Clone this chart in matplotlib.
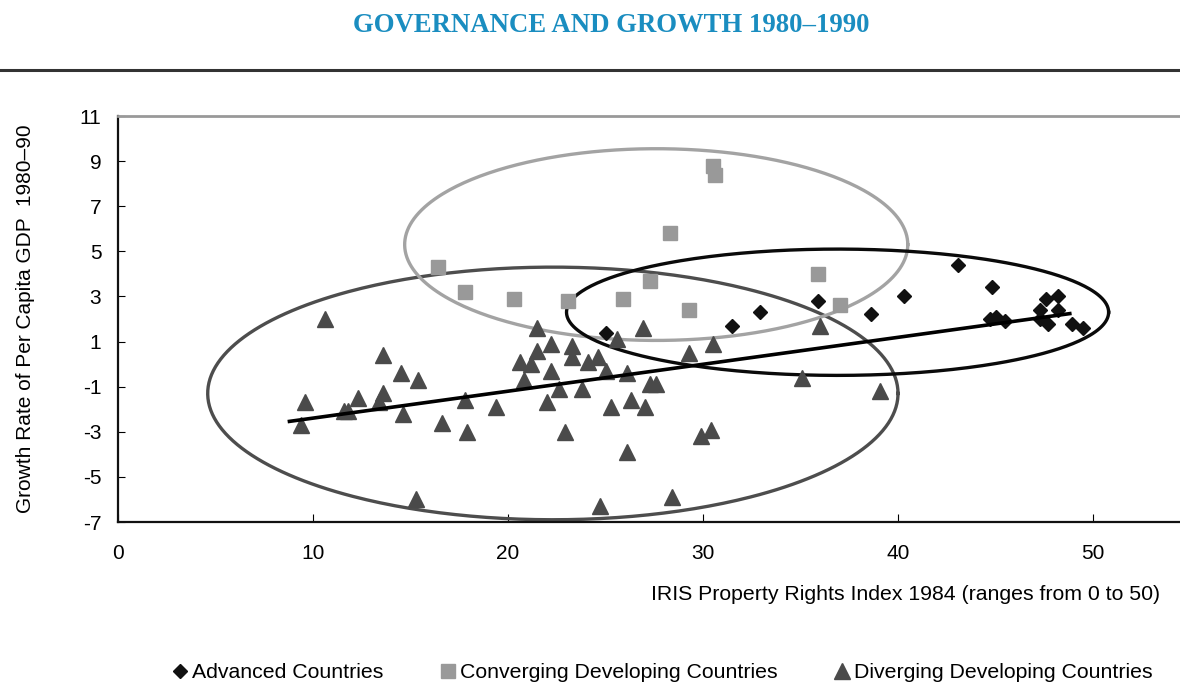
import numpy as np
import matplotlib
matplotlib.use("Agg")
import matplotlib.pyplot as plt
from matplotlib.lines import Line2D

plt.rcParams['font.family'] = ['Liberation Sans', 'DejaVu Sans']

# ---------------- data ----------------
adv_x = [25.0, 31.5, 32.9, 35.9, 38.6, 40.3, 43.1, 44.8, 44.7, 45.0, 45.5,
         47.3, 47.6, 48.2, 48.2, 47.3, 47.7, 48.9, 49.5]
adv_y = [1.4, 1.7, 2.3, 2.8, 2.2, 3.0, 4.4, 3.4, 2.0, 2.1, 1.9,
         2.4, 2.9, 3.0, 2.4, 2.0, 1.8, 1.8, 1.6]

conv_x = [16.4, 17.8, 20.3, 23.1, 25.9, 27.3, 28.3, 29.3, 30.5, 30.6, 35.9, 37.0]
conv_y = [4.3, 3.2, 2.9, 2.8, 2.9, 3.7, 5.8, 2.4, 8.8, 8.4, 4.0, 2.6]

div_x = [10.6, 13.6, 14.5, 15.4, 9.6, 12.3, 13.6, 13.4, 11.6, 11.8, 14.6, 9.4,
         16.6, 17.8, 17.9, 19.4, 15.3,
         21.5, 22.2, 21.5, 23.3, 23.3, 20.6, 21.2, 22.2, 24.1, 24.6, 25.0, 25.6,
         26.9, 26.1, 20.8, 22.6, 23.8, 27.3, 27.6, 22.0, 26.3, 27.0, 25.3, 22.9,
         26.1, 29.9, 30.4, 29.3, 30.5, 24.7, 28.4, 35.1, 39.1, 36.0]
div_y = [2.0, 0.4, -0.4, -0.7, -1.7, -1.5, -1.3, -1.7, -2.1, -2.1, -2.2, -2.7,
         -2.6, -1.6, -3.0, -1.9, -6.0,
         1.6, 0.9, 0.6, 0.8, 0.3, 0.1, 0.0, -0.3, 0.1, 0.3, -0.3, 1.1,
         1.6, -0.4, -0.7, -1.1, -1.1, -0.9, -0.9, -1.7, -1.6, -1.9, -1.9, -3.0,
         -3.9, -3.2, -2.9, 0.5, 0.9, -6.3, -5.9, -0.6, -1.2, 1.7]

trend_x = [8.7, 48.9]
trend_y = [-2.55, 2.25]

# ellipses: (center x, center y, half width, half height)
ell_conv = (27.6, 5.3, 12.9, 4.25)
ell_div = (22.3, -1.3, 17.7, 5.6)
ell_adv = (36.9, 2.3, 13.9, 2.8)

x_ticks = [0, 10, 20, 30, 40, 50]
y_ticks = [11, 9, 7, 5, 3, 1, -1, -3, -5, -7]

legend_labels = ["Advanced Countries", "Converging Developing Countries",
                 "Diverging Developing Countries"]

# ---------------- figure ----------------
FS = 15
fig = plt.figure(figsize=(11.8, 6.82), dpi=100)
ax = fig.add_axes([0.1, 0.2346, 0.9, 0.5953])

c_adv = '#111111'
c_conv = '#999999'
c_div = '#4a4a4a'

t = np.linspace(0, 2 * np.pi, 400)
for (cx, cy, a, b), col in [(ell_div, '#4d4d4d'), (ell_conv, '#a3a3a3'),
                            (ell_adv, '#0a0a0a')]:
    ax.plot(cx + a * np.cos(t), cy + b * np.sin(t), color=col, lw=2.4,
            zorder=2, clip_on=False)

ax.plot(div_x, div_y, linestyle='none', marker='^', ms=11, color=c_div,
        mec=c_div, zorder=3)
ax.plot(conv_x, conv_y, linestyle='none', marker='s', ms=10.5, color=c_conv,
        mec=c_conv, zorder=3)
ax.plot(adv_x, adv_y, linestyle='none', marker='D', ms=7.2, color=c_adv,
        mec=c_adv, zorder=4)
ax.plot(trend_x, trend_y, color='black', lw=2.6, zorder=5,
        solid_capstyle='butt')

ax.set_xlim(0, 54.46)
ax.set_ylim(-7, 11)
ax.set_xticks(x_ticks)
ax.set_yticks(y_ticks)
ax.set_xticklabels([str(v) for v in x_ticks], fontsize=FS)
ax.set_yticklabels([str(v) for v in y_ticks], fontsize=FS)
ax.tick_params(axis='x', direction='in', length=6, width=0.8, pad=16)
ax.tick_params(axis='y', direction='in', length=5, width=0.8, pad=12)

ax.spines['right'].set_visible(False)
ax.spines['top'].set_color('#999999')
ax.spines['top'].set_linewidth(2)
ax.spines['left'].set_linewidth(1.6)
ax.spines['bottom'].set_linewidth(1.6)
ax.spines['left'].set_color('#111111')
ax.spines['bottom'].set_color('#111111')

ax.set_ylabel("Growth Rate of Per Capita GDP  1980\u201390", fontsize=FS,
              labelpad=32)
fig.text(1160 / 1180, 1 - 594 / 682,
         "IRIS Property Rights Index 1984 (ranges from 0 to 50)",
         ha='right', va='center', fontsize=15.3)

# title and rule
fig.text(611 / 1180, 1 - 26 / 682, "GOVERNANCE AND GROWTH 1980\u20131990",
         ha='center', va='center', fontsize=19.3, fontweight='bold',
         color='#1a8dc0', family=['Liberation Serif', 'DejaVu Serif'])
fig.add_artist(Line2D([0, 1], [1 - 70 / 682, 1 - 70 / 682],
                      transform=fig.transFigure, color='#333333', lw=2.2))

handles = [
    Line2D([], [], linestyle='none', marker='D', ms=7.2, color=c_adv),
    Line2D([], [], linestyle='none', marker='s', ms=10.5, color=c_conv),
    Line2D([], [], linestyle='none', marker='^', ms=11, color=c_div),
]
fig.legend(handles, legend_labels, loc='center', ncol=3, frameon=False,
           bbox_to_anchor=(661 / 1180, 1 - 673 / 682), fontsize=15.3,
           handletextpad=0.1, columnspacing=2.5, handlelength=1.0)

fig.savefig("out.png", dpi=100)
